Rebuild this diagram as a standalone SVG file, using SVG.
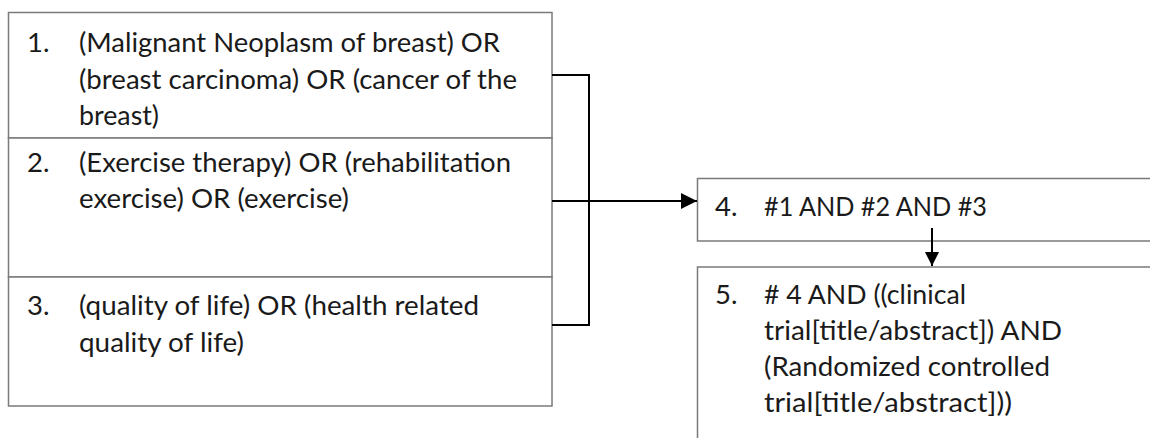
<svg xmlns="http://www.w3.org/2000/svg" width="1150" height="438" viewBox="0 0 1150 438">
  <style>
    .box { fill: #ffffff; stroke: #7a7a7a; stroke-width: 1.5; }
    .t { font-family: Lato, "Open Sans", sans-serif; font-size: 27.5px; fill: #1a1a1a; }
    .conn { fill: none; stroke: #000000; stroke-width: 2; }
  </style>
  <defs>
    <marker id="ahR" viewBox="0 0 16 16" refX="16" refY="8" markerWidth="16" markerHeight="16" markerUnits="userSpaceOnUse" orient="auto">
      <path d="M0,0 L16,8 L0,16 z" fill="#000"/>
    </marker>
    <marker id="ahD" viewBox="0 0 14 14" refX="14" refY="7" markerWidth="14" markerHeight="14" markerUnits="userSpaceOnUse" orient="auto">
      <path d="M0,0 L14,7 L0,14 z" fill="#000"/>
    </marker>
  </defs>
  <rect width="1150" height="438" fill="#ffffff"/>

  <g id="node1">
    <rect class="box" x="8.5" y="12.5" width="543.5" height="125.5"/>
    <text class="t" x="27" y="52">1.</text>
    <text class="t" x="79" y="52" textLength="421" lengthAdjust="spacingAndGlyphs">(Malignant Neoplasm of breast) OR</text>
    <text class="t" x="79" y="88.5" textLength="438" lengthAdjust="spacingAndGlyphs">(breast carcinoma) OR (cancer of the</text>
    <text class="t" x="79" y="125" textLength="80" lengthAdjust="spacingAndGlyphs">breast)</text>
  </g>

  <g id="node2">
    <rect class="box" x="8.5" y="138" width="543.5" height="139"/>
    <text class="t" x="27" y="171.5">2.</text>
    <text class="t" x="79" y="171.5" textLength="432" lengthAdjust="spacingAndGlyphs">(Exercise therapy) OR (rehabilitation</text>
    <text class="t" x="79" y="208" textLength="270" lengthAdjust="spacingAndGlyphs">exercise) OR (exercise)</text>
  </g>

  <g id="node3">
    <rect class="box" x="8.5" y="277" width="543.5" height="129"/>
    <text class="t" x="27" y="315">3.</text>
    <text class="t" x="79" y="315" textLength="400" lengthAdjust="spacingAndGlyphs">(quality of life) OR (health related</text>
    <text class="t" x="79" y="351.5" textLength="165" lengthAdjust="spacingAndGlyphs">quality of life)</text>
  </g>

  <g id="node4">
    <rect class="box" x="697.5" y="178.5" width="470" height="62.5"/>
    <text class="t" x="715" y="216">4.</text>
    <text class="t" x="764" y="216" textLength="223" lengthAdjust="spacingAndGlyphs">#1 AND #2 AND #3</text>
  </g>

  <g id="node5">
    <rect class="box" x="697.5" y="267" width="470" height="200"/>
    <text class="t" x="715" y="304">5.</text>
    <text class="t" x="764" y="304" textLength="202" lengthAdjust="spacingAndGlyphs"># 4 AND ((clinical</text>
    <text class="t" x="764" y="340" textLength="298" lengthAdjust="spacingAndGlyphs">trial[title/abstract]) AND</text>
    <text class="t" x="764" y="376" textLength="286" lengthAdjust="spacingAndGlyphs">(Randomized controlled</text>
    <text class="t" x="764" y="412" textLength="248" lengthAdjust="spacingAndGlyphs">trial[title/abstract]))</text>
  </g>

  <g id="connectors">
    <path class="conn" d="M552,75 H589 V325 H552"/>
    <path class="conn" d="M552,201 H697" marker-end="url(#ahR)"/>
    <path class="conn" d="M932,228 V266" marker-end="url(#ahD)"/>
  </g>
</svg>
